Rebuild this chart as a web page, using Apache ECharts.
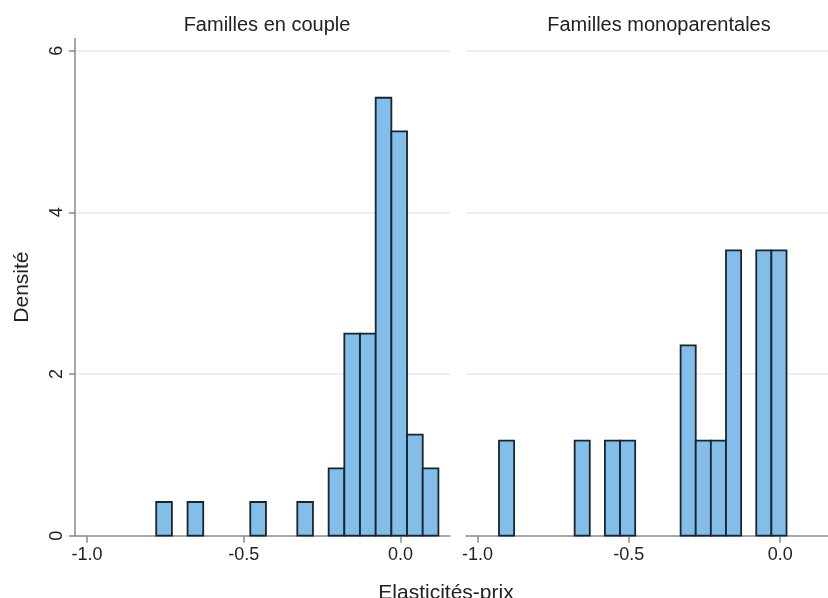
<!DOCTYPE html>
<html>
<head>
<meta charset="utf-8">
<script src="https://cdn.jsdelivr.net/npm/echarts@6/dist/echarts.min.js"></script>
<style>
html,body{margin:0;padding:0;background:#fff;}
#chart{width:828px;height:598px;}
</style>
</head>
<body>
<div id="chart"></div>
<script>
// ---- data ----
const panelTitles = ["Familles en couple", "Familles monoparentales"];
const binWidth = 0.05;
// histogram bins (left edge of each bin) and density heights
const coupleBinStart = [-0.779, -0.679, -0.479, -0.329, -0.229, -0.179, -0.129, -0.079, -0.029, 0.021, 0.071];
const coupleDensity  = [0.417, 0.417, 0.417, 0.417, 0.833, 2.5, 2.5, 5.417, 5.0, 1.25, 0.833];
const monoBinStart   = [-0.929, -0.679, -0.579, -0.529, -0.329, -0.279, -0.229, -0.179, -0.079, -0.029];
const monoDensity    = [1.176, 1.176, 1.176, 1.176, 2.353, 1.176, 1.176, 3.529, 3.529, 3.529];
const xTicks = [-1.0, -0.5, 0.0];
const yTicks = [0, 2, 4, 6];
const xTitle = "Elasticités-prix";
const yTitle = "Densité";

const FONT = "Liberation Sans, Arial, sans-serif";
const TXT = "#222";
const AX = "#8a8a8a";

function mk(starts, vals) { return starts.map((s, i) => [s, vals[i]]); }

function renderBar(params, api) {
  const x0 = api.value(0), h = api.value(1);
  const p0 = api.coord([x0, h]);
  const p1 = api.coord([x0 + binWidth, 0]);
  return {
    type: 'rect',
    shape: { x: p0[0], y: p0[1], width: p1[0] - p0[0], height: p1[1] - p0[1] },
    style: { fill: '#82bee9', stroke: '#1a242c', lineWidth: 1.8 }
  };
}

const xMin = -1.038, xMax = 0.158, yMax = 6.15;

function xAxis(gi) {
  return {
    type: 'value', gridIndex: gi, min: xMin, max: xMax,
    axisLine: { show: true, onZero: false, lineStyle: { color: AX, width: 1.5 } },
    axisTick: { show: true, length: 7, customValues: xTicks, lineStyle: { color: AX, width: 1.5 } },
    axisLabel: { show: true, customValues: xTicks, color: TXT, fontFamily: FONT, fontSize: 18, margin: 10,
      formatter: v => v.toFixed(1) },
    splitLine: { show: false }
  };
}
function yAxis(gi, showAxis) {
  return {
    type: 'value', gridIndex: gi, min: 0, max: yMax,
    axisLine: { show: showAxis, onZero: false, lineStyle: { color: AX, width: 1.5 } },
    axisTick: { show: showAxis, length: 6, customValues: yTicks, lineStyle: { color: AX, width: 1.5 } },
    axisLabel: { show: showAxis, customValues: yTicks, rotate: 90, color: TXT, fontFamily: FONT, fontSize: 18, margin: 9 },
    splitLine: { show: true, showMinLine: false, lineStyle: { color: '#e9e9e9', width: 1.5 } },
    interval: 2,
    name: showAxis ? yTitle : '',
    nameLocation: 'middle', nameGap: 42, nameRotate: 90,
    nameTextStyle: { color: TXT, fontFamily: FONT, fontSize: 21 }
  };
}

const chart = echarts.init(document.getElementById('chart'), null, { renderer: 'canvas' });
chart.setOption({
  backgroundColor: '#fff',
  animation: false,
  title: [
    { text: panelTitles[0], left: 262, top: 10, textAlign: 'center', textStyle: { color: TXT, fontFamily: FONT, fontSize: 20, fontWeight: 'normal' } },
    { text: panelTitles[1], left: 654, top: 10, textAlign: 'center', textStyle: { color: TXT, fontFamily: FONT, fontSize: 20, fontWeight: 'normal' } },
    { text: xTitle, left: 441, top: 578, textAlign: 'center', textStyle: { color: TXT, fontFamily: FONT, fontSize: 21, fontWeight: 'normal' } }
  ],
  grid: [
    { left: 75, width: 375, top: 38.5, bottom: 62.3 },
    { left: 466, width: 376, top: 38.5, bottom: 62.3 }
  ],
  xAxis: [xAxis(0), xAxis(1)],
  yAxis: [yAxis(0, true), yAxis(1, false)],
  series: [
    { type: 'custom', xAxisIndex: 0, yAxisIndex: 0, renderItem: renderBar, data: mk(coupleBinStart, coupleDensity), encode: { x: 0, y: 1 } },
    { type: 'custom', xAxisIndex: 1, yAxisIndex: 1, renderItem: renderBar, data: mk(monoBinStart, monoDensity), encode: { x: 0, y: 1 } }
  ]
});
</script>
</body>
</html>
